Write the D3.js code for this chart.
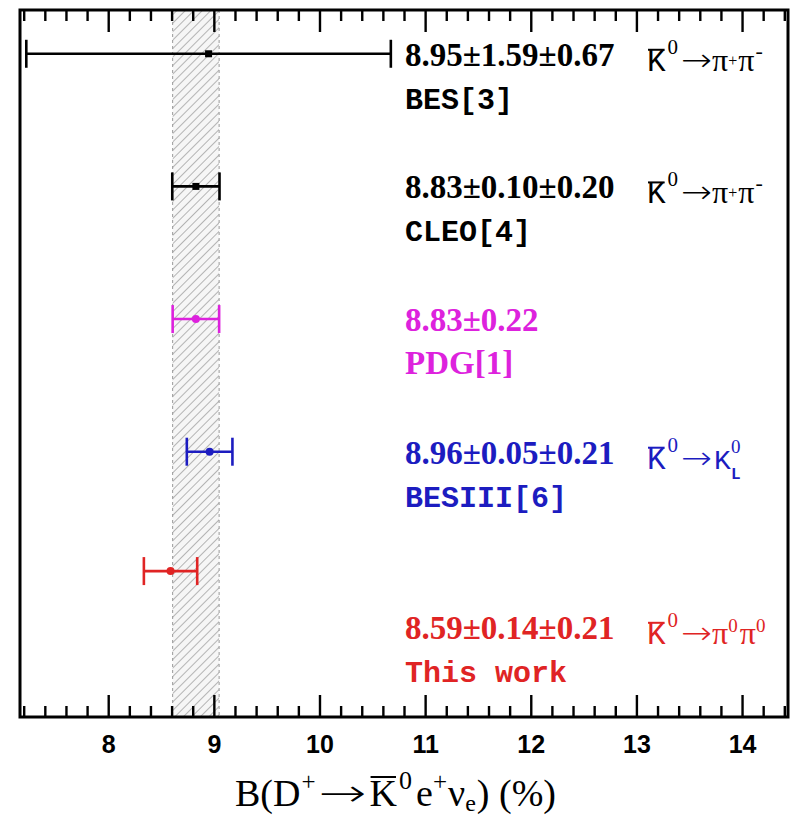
<!DOCTYPE html>
<html>
<head>
<meta charset="utf-8">
<script src="https://cdn.jsdelivr.net/npm/d3@7"></script>
<style>
  body { margin: 0; background: #fff; }
</style>
</head>
<body>
<svg id="chart" width="801" height="819"></svg>
<script>
// Measurements of B(D+ -> K0bar e+ nu_e), in percent
const experiments   = ["BES[3]", "CLEO[4]", "PDG[1]", "BESIII[6]", "This work"];
const centralValues = [8.95, 8.83, 8.83, 8.96, 8.59];
const statErrors    = [1.59, 0.10, 0.22, 0.05, 0.14];
const systErrors    = [0.67, 0.20, null, 0.21, 0.21];
const decayModes    = ["pipm", "pipm", null, "KL", "pi0pi0"];
const rowPositions   = [5, 4, 3, 2, 1.1];
const labelPositions = [5, 4, 3, 2, 0.68];
const seriesColors  = ["#000000", "#000000", "#dd22dd", "#1c1cc0", "#e02424"];
const markerShapes  = ["square", "square", "circle", "circle", "circle"];
const majorTicks    = [8, 9, 10, 11, 12, 13, 14];
const minorStep     = 0.2;
const bandIndex     = 2; // the PDG average is also drawn as a hatched band

const SERIF = "'Liberation Serif', serif";
const MONO  = "'Liberation Mono', monospace";
const ARROW = "'DejaVu Sans', sans-serif";

const totalError = i => systErrors[i] == null
  ? statErrors[i]
  : Math.sqrt(statErrors[i] ** 2 + systErrors[i] ** 2);

const valueText = i => centralValues[i].toFixed(2) + "±" + statErrors[i].toFixed(2) +
  (systErrors[i] == null ? "" : "±" + systErrors[i].toFixed(2));

const svg = d3.select("#chart");
const plotLeft = 20, plotRight = 788, plotTop = 10, plotBottom = 717;

const x = d3.scaleLinear().domain([7.165, 14.435]).range([plotLeft, plotRight]);
const y = d3.scaleLinear().domain([0, 5.33]).range([plotBottom, plotTop]);

// hatch pattern for the average band
const defs = svg.append("defs");
const pat = defs.append("pattern")
  .attr("id", "hatch").attr("patternUnits", "userSpaceOnUse")
  .attr("width", 6).attr("height", 6)
  .attr("patternTransform", "rotate(45)");
pat.append("rect").attr("width", 6).attr("height", 6).attr("fill", "#f6f6f6");
pat.append("line").attr("x1", 0).attr("y1", 0).attr("x2", 0).attr("y2", 6)
  .attr("stroke", "#888").attr("stroke-width", 1.2);

const bLo = centralValues[bandIndex] - totalError(bandIndex);
const bHi = centralValues[bandIndex] + totalError(bandIndex);
svg.append("rect")
  .attr("x", x(bLo)).attr("y", plotTop)
  .attr("width", x(bHi) - x(bLo)).attr("height", plotBottom - plotTop)
  .attr("fill", "url(#hatch)");
[bLo, bHi].forEach(v => svg.append("line")
  .attr("x1", x(v)).attr("x2", x(v)).attr("y1", plotTop).attr("y2", plotBottom)
  .attr("stroke", "#999").attr("stroke-width", 1).attr("stroke-dasharray", "3,3"));

// error bars
const capHalf = 14;
const rows = d3.range(experiments.length);
const bars = svg.append("g").selectAll("g").data(rows).join("g")
  .attr("stroke", i => seriesColors[i]).attr("fill", i => seriesColors[i]);
bars.append("line")
  .attr("x1", i => x(centralValues[i] - totalError(i)))
  .attr("x2", i => x(centralValues[i] + totalError(i)))
  .attr("y1", i => y(rowPositions[i])).attr("y2", i => y(rowPositions[i]))
  .attr("stroke-width", 2.6);
[-1, 1].forEach(s => bars.append("line")
  .attr("x1", i => x(centralValues[i] + s * totalError(i)))
  .attr("x2", i => x(centralValues[i] + s * totalError(i)))
  .attr("y1", i => y(rowPositions[i]) - capHalf)
  .attr("y2", i => y(rowPositions[i]) + capHalf)
  .attr("stroke-width", 2.6));
bars.each(function (i) {
  const g = d3.select(this);
  const cx = x(centralValues[i]), cy = y(rowPositions[i]);
  if (markerShapes[i] === "square") {
    g.append("rect").attr("x", cx - 3.5).attr("y", cy - 3.5)
      .attr("width", 7).attr("height", 7).attr("stroke", "none");
  } else {
    g.append("circle").attr("cx", cx).attr("cy", cy).attr("r", 4).attr("stroke", "none");
  }
});

// inline formula text: a run of pieces, each placed after the previous one
function richText(x0, base, parts, color) {
  let cx = x0;
  const g = svg.append("g").attr("fill", color);
  parts.forEach(p => {
    cx += p.gap || 0;
    const t = g.append("text").attr("x", cx).attr("y", base + (p.dy || 0))
      .style("font-family", p.family || SERIF)
      .style("font-size", p.size + "px")
      .style("font-weight", p.weight || "normal")
      .text(p.text);
    let w = t.node().getComputedTextLength();
    if (p.width) {
      const s = p.width / w;
      t.attr("transform", `translate(${cx},0) scale(${s},1) translate(${-cx},0)`);
      w = p.width;
    }
    if (p.overline) {
      g.append("line").attr("x1", cx + 1).attr("x2", cx + w - 1)
        .attr("y1", base - p.overline).attr("y2", base - p.overline)
        .attr("stroke", color).attr("stroke-width", 2);
    }
    if (!p.stack) cx += w;
  });
}

const K_BAR = [
  { text: "K", size: 31, family: MONO, overline: 21 },
  { text: "0", size: 21, dy: -17, gap: 2 },
  { text: "→", size: 32, family: ARROW, weight: 200, width: 31, gap: 3 }
];
const decayParts = {
  pipm: K_BAR.concat([
    { text: "π", size: 32 },
    { text: "+", size: 16, dy: -5 },
    { text: "π", size: 32, gap: 1 },
    { text: "-", size: 22, dy: -13, gap: 1 }
  ]),
  pi0pi0: K_BAR.concat([
    { text: "π", size: 32 },
    { text: "0", size: 19, dy: -12 },
    { text: "π", size: 32, gap: 2 },
    { text: "0", size: 19, dy: -12 }
  ]),
  KL: K_BAR.concat([
    { text: "K", size: 28, family: MONO, gap: 2 },
    { text: "0", size: 19, dy: -16, stack: true },
    { text: "L", size: 16, family: MONO, weight: "bold", dy: 10 }
  ])
};

// text labels
const labelX = 405, decayX = 647;
rows.forEach(i => {
  const base = y(labelPositions[i]) + 12;
  const c = seriesColors[i];
  svg.append("text").attr("x", labelX).attr("y", base)
    .attr("fill", c).style("font-family", SERIF)
    .style("font-weight", "bold").style("font-size", "33px")
    .text(valueText(i));
  svg.append("text").attr("x", labelX).attr("y", base + 43)
    .attr("fill", c)
    .style("font-family", i === bandIndex ? SERIF : MONO)
    .style("font-weight", "bold").style("font-size", i === bandIndex ? "33px" : "30px")
    .text(experiments[i]);
  if (decayModes[i]) richText(decayX, base + 5, decayParts[decayModes[i]], c);
});

// axes: major and minor ticks on bottom and top, pointing inward
const minorTicks = d3.range(7.2, 14.45, minorStep).filter(v => Math.abs(v - Math.round(v)) > 1e-6);
const bottomMajor = svg.append("g").attr("transform", `translate(0,${plotBottom})`)
  .call(d3.axisBottom(x).tickValues(majorTicks).tickSize(-22).tickPadding(18).tickFormat(d3.format("d")));
const bottomMinor = svg.append("g").attr("transform", `translate(0,${plotBottom})`)
  .call(d3.axisBottom(x).tickValues(minorTicks).tickSize(-11).tickFormat(""));
const topMajor = svg.append("g").attr("transform", `translate(0,${plotTop})`)
  .call(d3.axisTop(x).tickValues(majorTicks).tickSize(-22).tickFormat(""));
const topMinor = svg.append("g").attr("transform", `translate(0,${plotTop})`)
  .call(d3.axisTop(x).tickValues(minorTicks).tickSize(-11).tickFormat(""));
[bottomMajor, bottomMinor, topMajor, topMinor].forEach(g => {
  g.select(".domain").remove();
  g.selectAll(".tick line").attr("stroke", "#000").attr("stroke-width", 2.4);
});
bottomMajor.selectAll(".tick text")
  .attr("fill", "#000")
  .style("font-family", "'Liberation Sans', Arial, sans-serif")
  .style("font-weight", "bold").style("font-size", "25px");

// frame
svg.append("rect").attr("x", plotLeft).attr("y", plotTop)
  .attr("width", plotRight - plotLeft).attr("height", plotBottom - plotTop)
  .attr("fill", "none").attr("stroke", "#000").attr("stroke-width", 3);

// axis title
richText(235, 806, [
  { text: "B(D", size: 38 },
  { text: "+", size: 25, dy: -16, gap: 1 },
  { text: "→", size: 38, family: ARROW, weight: 200, width: 48, gap: 3 },
  { text: "K", size: 38, overline: 29, gap: 3 },
  { text: "0", size: 26, dy: -17, gap: 2 },
  { text: "e", size: 38, gap: 4 },
  { text: "+", size: 25, dy: -16 },
  { text: "ν", size: 38, gap: 1 },
  { text: "e", size: 24, dy: 5 },
  { text: ") (%)", size: 38, gap: 1 }
], "#000");
</script>
</body>
</html>
